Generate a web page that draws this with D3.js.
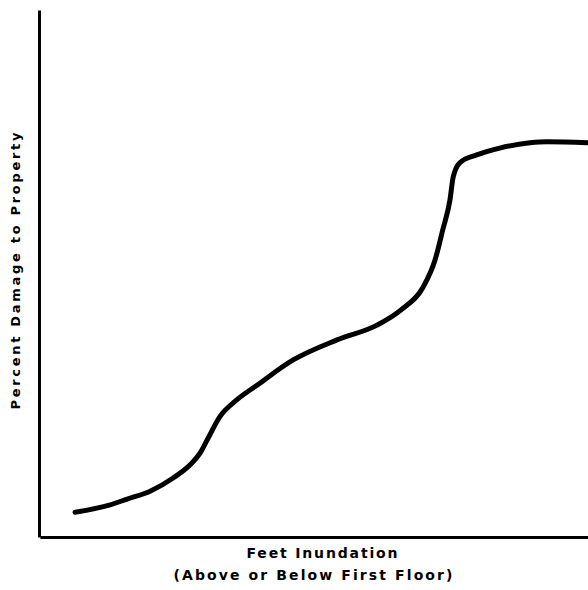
<!DOCTYPE html>
<html>
<head>
<meta charset="utf-8">
<script src="https://cdn.jsdelivr.net/npm/d3@7"></script>
<style>
  body { margin:0; background:#fff; }
  text { font-family: "DejaVu Sans", "Liberation Sans", Arial, sans-serif; font-weight:bold; fill:#000; }
</style>
</head>
<body>
<script>
// feet inundation (relative, 0-100 across the axis) vs percent damage (0-100)
var feet   = [6.4, 12.8, 15.9, 20.1, 24.3, 27.4, 29.2, 30.5, 32.8, 35.9, 39.6, 46.2, 54.2, 61.5, 66.0, 69.9, 72.1, 73.5, 74.8, 75.4, 76.6, 79.7, 83.9, 89.4, 92.5, 100];
var damage = [4.7, 6.1, 7.2, 8.7, 11.2, 13.7, 15.9, 18.4, 22.8, 26.0, 28.8, 33.6, 37.4, 40.2, 43.2, 47.4, 52.6, 58.3, 63.9, 68.3, 71.0, 72.5, 73.8, 74.8, 75.0, 74.8];

var xTitle  = "Feet Inundation";
var xTitle2 = "(Above or Below First Floor)";
var yTitle  = "Percent Damage to Property";

var totalWidth = 588, totalHeight = 590;
var margin = {top:10, left:39, bottom:53, right:0};
var width = totalWidth - margin.left - margin.right;
var height = totalHeight - margin.top - margin.bottom;

var svg = d3.select("body")
    .append("svg")
    .attr("width", totalWidth)
    .attr("height", totalHeight)
    .append("g")
    .attr("transform", "translate(" + margin.left + "," + margin.top + ")");

var xScale = d3.scaleLinear().domain([0,100]).range([1,width]);
var yScale = d3.scaleLinear().domain([0,100]).range([height,0]);

// bare axes, no ticks
var xAxis = d3.axisBottom(xScale).tickValues([]).tickSizeOuter(0);
var yAxis = d3.axisLeft(yScale).tickValues([]).tickSizeOuter(0);

svg.append("g")
    .attr("transform", "translate(0," + height + ")")
    .call(xAxis)
    .select(".domain").attr("stroke","#000").attr("stroke-width",3);

svg.append("g")
    .call(yAxis)
    .select(".domain").attr("stroke","#000").attr("stroke-width",3);

var line = d3.line()
    .x(function(d){ return xScale(d[0]); })
    .y(function(d){ return yScale(d[1]); })
    .curve(d3.curveMonotoneX);

svg.append("path")
    .datum(feet.map(function(f,i){ return [f, damage[i]]; }))
    .attr("d", line)
    .attr("fill","none")
    .attr("stroke","#000")
    .attr("stroke-width",5)
    .attr("stroke-linecap","round")
    .attr("stroke-linejoin","round");

svg.append("text")
    .attr("x", 322 - margin.left)
    .attr("y", height + 21)
    .attr("text-anchor","middle")
    .attr("font-size",14)
    .attr("textLength",151)
    .attr("lengthAdjust","spacing")
    .text(xTitle);

svg.append("text")
    .attr("x", 313 - margin.left)
    .attr("y", height + 43)
    .attr("text-anchor","middle")
    .attr("font-size",14)
    .attr("textLength",279)
    .attr("lengthAdjust","spacing")
    .text(xTitle2);

svg.append("text")
    .attr("transform","rotate(-90)")
    .attr("x", -(271 - margin.top))
    .attr("y", 20 - margin.left)
    .attr("text-anchor","middle")
    .attr("font-size",13)
    .attr("textLength",277)
    .attr("lengthAdjust","spacing")
    .text(yTitle);
</script>
</body>
</html>
